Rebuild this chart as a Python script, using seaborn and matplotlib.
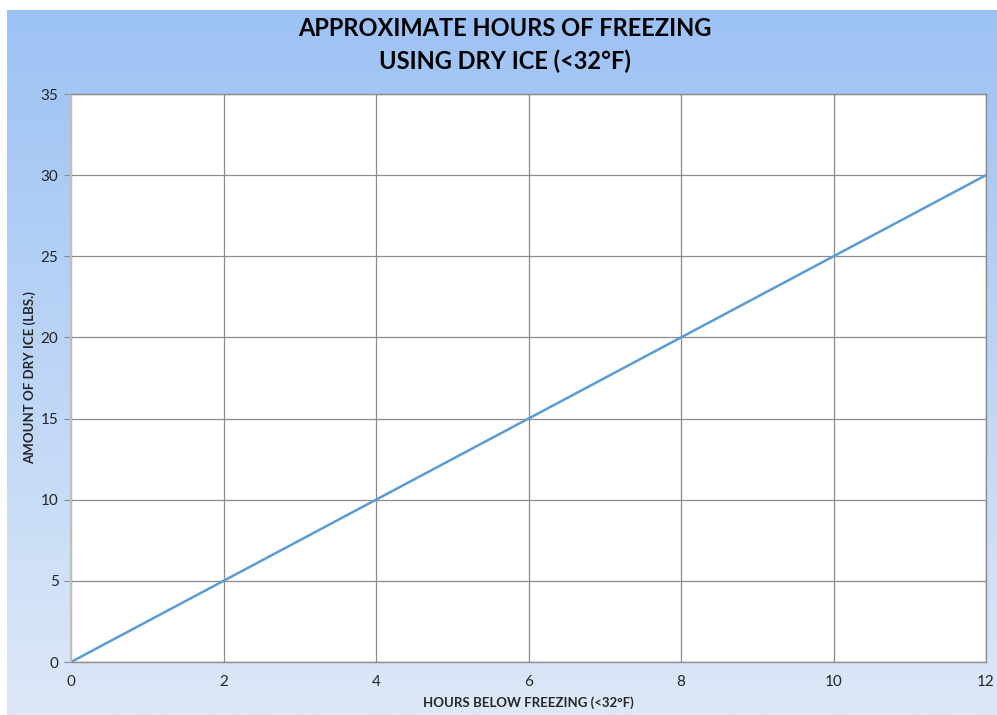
import numpy as np
import pandas as pd
import matplotlib
matplotlib.use("Agg")
import matplotlib.pyplot as plt
import seaborn as sns
from matplotlib.colors import LinearSegmentedColormap

hours = [0, 2, 4, 6, 8, 10, 12]
dry_ice_lbs = [0, 5, 10, 15, 20, 25, 30]
x_ticks = [0, 2, 4, 6, 8, 10, 12]
y_ticks = [0, 5, 10, 15, 20, 25, 30, 35]

title = "APPROXIMATE HOURS OF FREEZING\nUSING DRY ICE (<32°F)"
xlabel = "HOURS BELOW FREEZING (<32°F)"
ylabel = "AMOUNT OF DRY ICE (LBS.)"

sns.set_style("white")
plt.rcParams['font.family'] = ['Lato', 'DejaVu Sans']

W, H = 997, 715
fig = plt.figure(figsize=(W / 100, H / 100), dpi=100)
fig.patch.set_facecolor("white")

# gradient background
bg = fig.add_axes([7 / W, 0, 1 - 7 / W, 1 - 10 / H], zorder=0)
cmap = LinearSegmentedColormap.from_list("bg", ["#9CC2F4", "#DDE8F8"])
grad = np.linspace(0, 1, 256).reshape(-1, 1)
bg.imshow(grad, aspect="auto", cmap=cmap, extent=[0, 1, 0, 1], origin="upper")
bg.set_axis_off()

left, right, top, bottom = 71, 986, 94, 662
ax = fig.add_axes([left / W, 1 - bottom / H, (right - left) / W, (bottom - top) / H], zorder=1)
ax.set_facecolor("white")

df = pd.DataFrame({"hours": hours, "lbs": dry_ice_lbs})
sns.lineplot(data=df, x="hours", y="lbs", ax=ax, color="#5B9BD5", linewidth=1.8)

ax.set_xlim(0, 12)
ax.set_ylim(0, 35)
ax.set_xticks(x_ticks)
ax.set_yticks(y_ticks)
ax.grid(True, color="#8C8C8C", linewidth=0.9)
ax.set_axisbelow(True)
for s in ax.spines.values():
    s.set_color("#8C8C8C")
    s.set_linewidth(1.0)
ax.spines["left"].set_color("#BFBFBF")
ax.spines["left"].set_linewidth(1.5)
ax.tick_params(axis="y", length=5, color="#8C8C8C", labelsize=11, pad=4, left=True)
ax.tick_params(axis="x", length=0, labelsize=11, pad=9, bottom=False)

ax.set_xlabel(xlabel, fontsize=9.5, fontweight="bold")
ax.set_ylabel(ylabel, fontsize=9.5, fontweight="bold")
ax.xaxis.set_label_coords(0.5, -(703 - bottom) / (bottom - top))
ax.xaxis.label.set_va("center")
ax.yaxis.set_label_coords(-(left - 30) / (right - left), 0.5)
ax.yaxis.label.set_va("center")

fig.text(505 / W, 1 - 45 / H, title, ha="center", va="center", fontsize=17,
         fontweight="bold", linespacing=1.5, color="black")

fig.savefig("out.png", dpi=100)
